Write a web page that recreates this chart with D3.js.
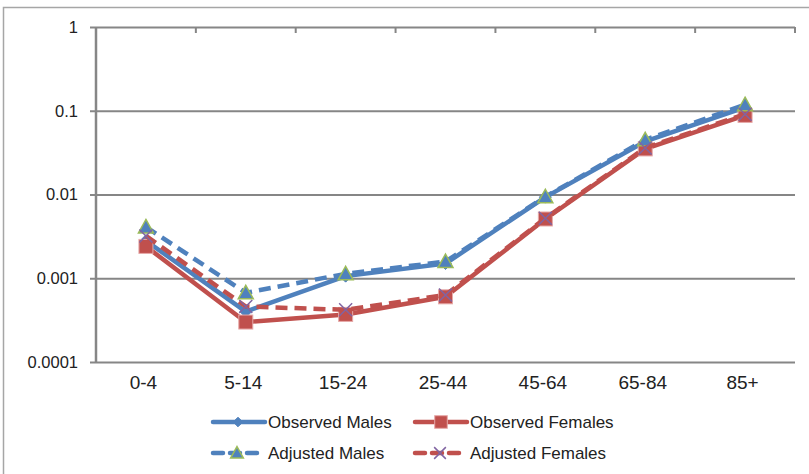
<!DOCTYPE html>
<html>
<head>
<meta charset="utf-8">
<script src="https://cdn.jsdelivr.net/npm/d3@7"></script>
<style>
  html, body { margin: 0; padding: 0; background: #fff; }
  svg { display: block; }
</style>
</head>
<body>
<svg id="chart" width="809" height="474"></svg>
<script>
const categories = ["0-4", "5-14", "15-24", "25-44", "45-64", "65-84", "85+"];
const observedMales   = [0.0028, 0.00040, 0.00106, 0.00150, 0.0093, 0.043, 0.110];
const observedFemales = [0.0024, 0.00030, 0.00037, 0.00060, 0.0051, 0.035, 0.088];
const adjustedMales   = [0.0041, 0.00067, 0.00113, 0.00158, 0.0094, 0.045, 0.118];
const adjustedFemales = [0.0032, 0.00046, 0.00042, 0.00063, 0.0052, 0.036, 0.091];
const yTicks = [0.0001, 0.001, 0.01, 0.1, 1];
const yTickLabels = ["0.0001", "0.001", "0.01", "0.1", "1"];
const seriesNames = ["Observed Males", "Observed Females", "Adjusted Males", "Adjusted Females"];

const BLUE = "#4F81BD", RED = "#C0504D", GREEN = "#9BBB59", PURPLE = "#8064A2", GRID = "#868686";

const svg = d3.select("#chart");
const plot = { left: 96, right: 795, top: 27, bottom: 362 };

// outer frame
svg.append("path")
  .attr("d", `M3.5,474 V7.5 H809`)
  .attr("fill", "none").attr("stroke", "#a6a6a6").attr("stroke-width", 1.5);

const x = d3.scalePoint().domain(categories).range([plot.left, plot.right]).padding(0.5);
const step = x.step();
const y = d3.scaleLog().domain([0.0001, 1]).range([plot.bottom, plot.top]);

// gridlines + y axis
const yAxis = d3.axisLeft(y).tickValues(yTicks)
  .tickFormat((d, i) => yTickLabels[i])
  .tickSize(-(plot.right - plot.left)).tickPadding(18);
const gy = svg.append("g").attr("transform", `translate(${plot.left},0)`).call(yAxis);
gy.select(".domain").remove();
gy.selectAll(".tick line").attr("stroke", GRID).attr("stroke-width", 2)
  .attr("x1", -6);
gy.selectAll(".tick text")
  .attr("font-family", "'Liberation Sans', Arial, sans-serif")
  .attr("font-size", 16.5).attr("fill", "#222");

// left axis line
svg.append("line").attr("x1", plot.left).attr("x2", plot.left)
  .attr("y1", plot.top).attr("y2", plot.bottom)
  .attr("stroke", GRID).attr("stroke-width", 2.5);

// top category tick marks at band boundaries
const bounds = categories.map(c => x(c) + step / 2);
svg.append("g").selectAll("line").data(bounds).join("line")
  .attr("x1", d => d).attr("x2", d => d)
  .attr("y1", plot.top).attr("y2", plot.top + 6)
  .attr("stroke", GRID).attr("stroke-width", 2);

// x labels
const xAxis = d3.axisBottom(x).tickSize(0).tickPadding(14);
const gx = svg.append("g").attr("transform", `translate(0,${plot.bottom})`).call(xAxis);
gx.select(".domain").remove();
gx.selectAll(".tick text")
  .attr("font-family", "'Liberation Sans Narrow', 'Liberation Sans', Arial, sans-serif")
  .attr("font-size", 19).attr("fill", "#222")
  .attr("dx", -3);

// marker painters
function drawMarker(g, type, cx, cy, scale = 1) {
  if (type === "diamond") {
    const s = 6 * scale;
    g.append("path").attr("d", `M${cx},${cy - s} L${cx + s},${cy} L${cx},${cy + s} L${cx - s},${cy} Z`)
      .attr("fill", BLUE).attr("stroke", BLUE).attr("stroke-width", 1);
  } else if (type === "square") {
    const s = 7 * scale;
    g.append("rect").attr("x", cx - s).attr("y", cy - s).attr("width", 2 * s).attr("height", 2 * s)
      .attr("fill", RED).attr("stroke", "#E6A9A8").attr("stroke-width", 1);
  } else if (type === "triangle") {
    const s = 7.5 * scale;
    g.append("path").attr("d", `M${cx},${cy - s} L${cx + s},${cy + s * 0.8} L${cx - s},${cy + s * 0.8} Z`)
      .attr("fill", BLUE).attr("stroke", GREEN).attr("stroke-width", 1.5);
  } else if (type === "x") {
    const s = 6.5 * scale;
    g.append("path").attr("d", `M${cx - s},${cy - s} L${cx + s},${cy + s} M${cx - s},${cy + s} L${cx + s},${cy - s}`)
      .attr("fill", "none").attr("stroke", PURPLE).attr("stroke-width", 1.5);
  }
}

const series = [
  { name: seriesNames[0], values: observedMales,   color: BLUE, dash: null,   marker: "diamond" },
  { name: seriesNames[1], values: observedFemales, color: RED,  dash: null,   marker: "square" },
  { name: seriesNames[2], values: adjustedMales,   color: BLUE, dash: "12,7", marker: "triangle" },
  { name: seriesNames[3], values: adjustedFemales, color: RED,  dash: "12,7", marker: "x" }
];

const line = d3.line().x((d, i) => x(categories[i])).y(d => y(d));

series.forEach(s => {
  const g = svg.append("g");
  g.append("path").datum(s.values).attr("d", line)
    .attr("fill", "none").attr("stroke", s.color).attr("stroke-width", 4.5)
    .attr("stroke-linejoin", "round")
    .attr("stroke-dasharray", s.dash);
  s.values.forEach((v, i) => drawMarker(g, s.marker, x(categories[i]), y(v)));
});

// legend
const legendPos = [
  { x0: 213, x1: 265, mx: 238, tx: 268, y: 422 },
  { x0: 415, x1: 467, mx: 441, tx: 470, y: 422 },
  { x0: 213, x1: 258, mx: 237, tx: 268, y: 453 },
  { x0: 415, x1: 460, mx: 440, tx: 470, y: 453 }
];
const lg = svg.append("g");
series.forEach((s, i) => {
  const p = legendPos[i];
  lg.append("line").attr("x1", p.x0).attr("x2", p.x1).attr("y1", p.y).attr("y2", p.y)
    .attr("stroke", s.color).attr("stroke-width", 4.5).attr("stroke-linecap", "round")
    .attr("stroke-dasharray", s.dash ? "10,7" : null);
  drawMarker(lg, s.marker, p.mx, p.y, s.marker === "triangle" ? 0.85 : (s.marker === "diamond" ? 0.8 : 0.9));
  lg.append("text").attr("x", p.tx).attr("y", p.y).attr("dy", "0.35em")
    .attr("font-family", "'Liberation Sans', Arial, sans-serif")
    .attr("font-size", 17).attr("fill", "#222").text(s.name);
});
</script>
</body>
</html>
